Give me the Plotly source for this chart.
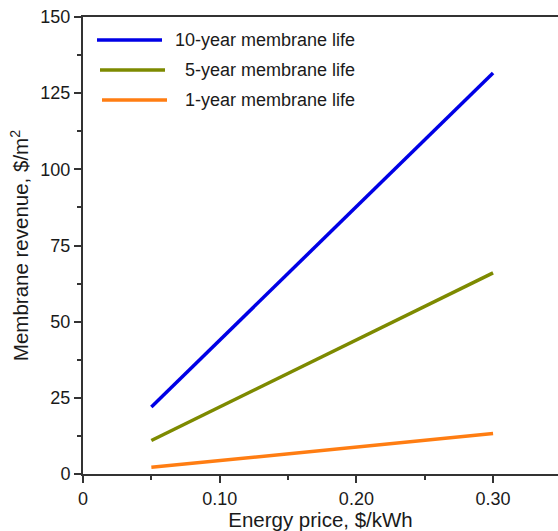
import plotly.graph_objects as go

energy_price = [0.05, 0.30]
rev_10yr = [22.0, 131.6]
rev_5yr = [11.0, 66.0]
rev_1yr = [2.2, 13.3]

series_names = ["10-year membrane life", "5-year membrane life", "1-year membrane life"]
series_vals = [rev_10yr, rev_5yr, rev_1yr]
colors = ["#0000e6", "#7d8a00", "#ff7d12"]

x_tickvals = [0, 0.10, 0.20, 0.30]
x_ticktext = ["0", "0.10", "0.20", "0.30"]
y_tickvals = [0, 25, 50, 75, 100, 125, 150]

font = "Liberation Sans, Arial, Helvetica, sans-serif"
fig = go.Figure()
for name, vals, c in zip(series_names, series_vals, colors):
    fig.add_trace(go.Scatter(x=energy_price, y=vals, mode="lines", name=name,
                             line=dict(color=c, width=3.5), showlegend=False))

# Custom legend (sample lines + labels)
W, H = 558, 531
l, r, t, b = 83, 0, 17, 57
pw, ph = W - l - r, H - t - b
leg_y = [40, 70, 100]
leg_x0 = [97, 100, 102]
leg_tx = [173, 183, 183]
for i, (name, c) in enumerate(zip(series_names, colors)):
    yp = 1 - (leg_y[i] - t) / ph
    fig.add_shape(type="line", xref="paper", yref="paper",
                  x0=(leg_x0[i] - l) / pw, x1=(leg_x0[i] + 65 - l) / pw, y0=yp, y1=yp,
                  line=dict(color=c, width=3.5))
    fig.add_annotation(xref="paper", yref="paper", x=(leg_tx[i] - l) / pw, y=yp, text=name,
                       showarrow=False, xanchor="left", yanchor="middle",
                       font=dict(size=18, color="#1a1a1a", family=font))

axcol = "#333"
fig.update_layout(
    width=W, height=H,
    margin=dict(l=l, r=r, t=t, b=b, autoexpand=False),
    plot_bgcolor="white", paper_bgcolor="white",
    font=dict(family=font, size=18, color="#1a1a1a"),
    xaxis=dict(range=[0, 0.3475], tickvals=x_tickvals, ticktext=x_ticktext,
               ticks="outside", ticklen=7, tickwidth=2, tickcolor=axcol,
               showline=True, linewidth=2, linecolor=axcol, mirror=True,
               showgrid=False, zeroline=False, automargin=False,
               minor=dict(tickvals=[0.05, 0.15, 0.25], ticks="outside", ticklen=4, tickwidth=2, tickcolor=axcol),
               title=dict(text="Energy price, $/kWh", standoff=2, font=dict(size=20.5)),
               tickfont=dict(size=18)),
    yaxis=dict(range=[0, 150], tickvals=y_tickvals,
               ticks="outside", ticklen=7, tickwidth=2, tickcolor=axcol,
               showline=True, linewidth=2, linecolor=axcol,
               showgrid=False, zeroline=False, automargin=False,
               minor=dict(tickvals=[12.5, 37.5, 62.5, 87.5, 112.5, 137.5], ticks="outside", ticklen=4, tickwidth=2, tickcolor=axcol),
               title=dict(text="Membrane revenue, $/m<sup>2</sup>", standoff=6, font=dict(size=20.5)),
               tickfont=dict(size=18)),
)
fig.write_html("out.html", config={"displayModeBar": False},
               post_script="document.body.style.margin='0';document.body.style.overflow='hidden';")
